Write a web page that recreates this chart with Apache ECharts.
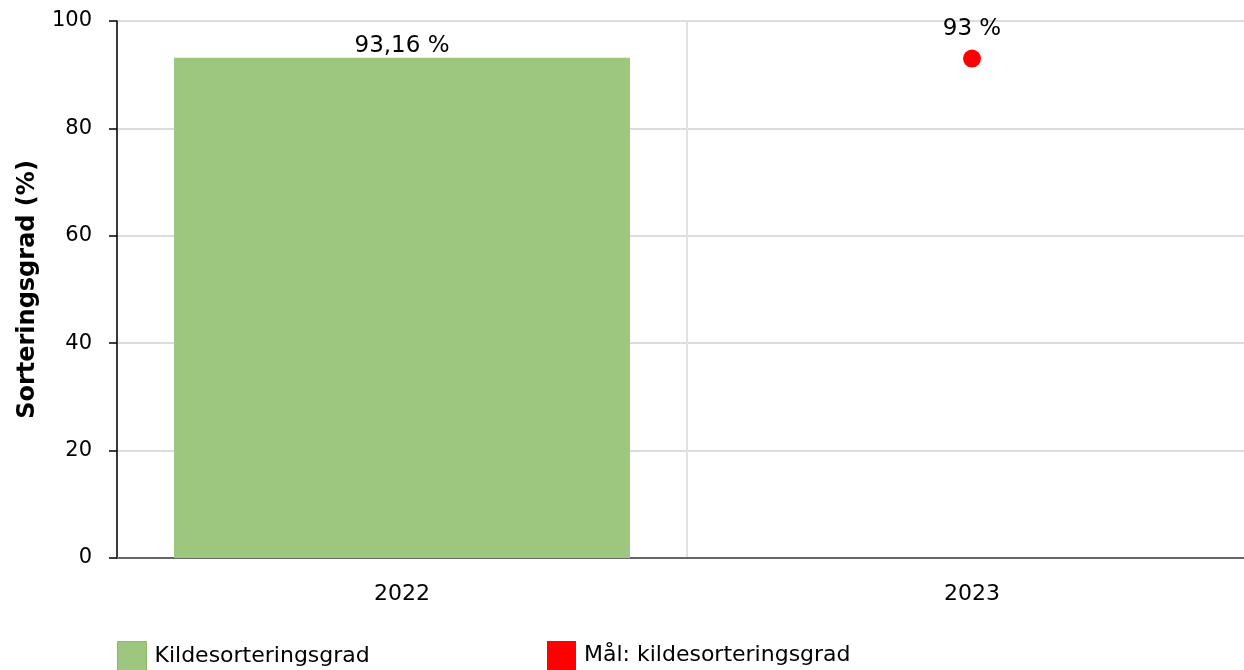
<!DOCTYPE html>
<html>
<head>
<meta charset="utf-8">
<script src="https://cdn.jsdelivr.net/npm/echarts@6/dist/echarts.min.js"></script>
<style>
  html, body { margin: 0; padding: 0; background: #fff; }
  #chart { width: 1244px; height: 670px; }
</style>
</head>
<body>
<div id="chart"></div>
<script>
// data
const years = ['2022', '2023']
const sortingRate = [93.16, null]
const targetRate = [null, 93]
const seriesNames = ['Kildesorteringsgrad', 'Mål: kildesorteringsgrad']

const fontFamily = 'DejaVu Sans, Verdana, sans-serif'
const chart = echarts.init(document.getElementById('chart'))

const fmt = p => p.value == null ? '' : String(p.value).replace('.', ',') + ' %'

const legendText = { fontSize: 22, color: '#000', fontFamily, padding: [0, 0, 0, 3] }

chart.setOption({
  animation: false,
  textStyle: { fontFamily },
  grid: { left: 117, top: 21, bottom: 112, width: 1140, outerBoundsMode: 'none', containLabel: false },
  legend: [
    {
      data: [{ name: seriesNames[0], icon: 'rect', itemStyle: { borderColor: '#8cb86c', borderWidth: 1 } }],
      left: 117, top: 641, padding: 0,
      itemWidth: 29, itemHeight: 29,
      textStyle: legendText
    },
    {
      data: [{ name: seriesNames[1], icon: 'rect' }],
      left: 547, top: 641, padding: 0,
      itemWidth: 29, itemHeight: 29,
      textStyle: legendText
    }
  ],
  xAxis: {
    type: 'category',
    data: years,
    axisLine: { lineStyle: { color: '#666', width: 2 } },
    axisTick: { alignWithLabel: true, length: 9, lineStyle: { color: '#aaa' } },
    axisLabel: { color: '#000', fontSize: 22, margin: 25 },
    splitLine: { show: true, lineStyle: { color: '#e2e2e2', width: 2 } }
  },
  yAxis: {
    type: 'value',
    min: 0, max: 100, interval: 20,
    name: 'Sorteringsgrad (%)',
    nameLocation: 'middle',
    nameGap: 77,
    nameTextStyle: { fontSize: 24, fontWeight: 'bold', color: '#000' },
    axisLine: { show: true, lineStyle: { color: '#000', width: 1.5 } },
    axisTick: { show: true, length: 8, lineStyle: { color: '#000', width: 1.5 } },
    axisLabel: { color: '#000', fontSize: 21, margin: 25 },
    splitLine: { lineStyle: { color: '#dcdcdc', width: 2 } }
  },
  series: [
    {
      name: seriesNames[0],
      type: 'bar',
      barWidth: '80%',
      data: sortingRate,
      itemStyle: { color: '#9dc67f' },
      label: { show: true, position: 'top', distance: 0, color: '#000', fontSize: 23, formatter: fmt }
    },
    {
      name: seriesNames[1],
      type: 'scatter',
      symbol: 'circle',
      symbolSize: 18,
      data: targetRate,
      itemStyle: { color: '#ff0000', opacity: 1 },
      label: { show: true, position: 'top', distance: 9, color: '#000', fontSize: 23, formatter: fmt }
    }
  ]
})
</script>
</body>
</html>
